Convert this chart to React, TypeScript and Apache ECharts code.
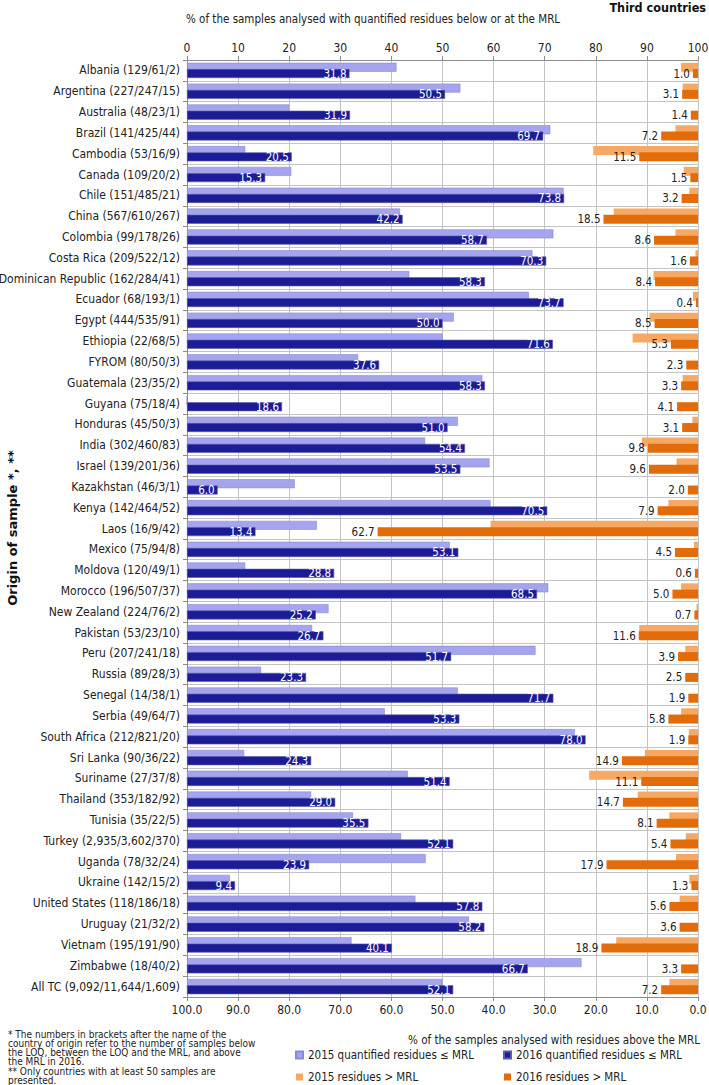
import React, { useEffect, useRef } from "react";
import * as echarts from "echarts";

const categories = [
  "Albania (129/61/2)",
  "Argentina (227/247/15)",
  "Australia (48/23/1)",
  "Brazil (141/425/44)",
  "Cambodia (53/16/9)",
  "Canada (109/20/2)",
  "Chile (151/485/21)",
  "China (567/610/267)",
  "Colombia (99/178/26)",
  "Costa Rica (209/522/12)",
  "Dominican Republic (162/284/41)",
  "Ecuador (68/193/1)",
  "Egypt (444/535/91)",
  "Ethiopia (22/68/5)",
  "FYROM (80/50/3)",
  "Guatemala (23/35/2)",
  "Guyana (75/18/4)",
  "Honduras (45/50/3)",
  "India (302/460/83)",
  "Israel (139/201/36)",
  "Kazakhstan (46/3/1)",
  "Kenya (142/464/52)",
  "Laos (16/9/42)",
  "Mexico (75/94/8)",
  "Moldova (120/49/1)",
  "Morocco (196/507/37)",
  "New Zealand (224/76/2)",
  "Pakistan (53/23/10)",
  "Peru (207/241/18)",
  "Russia (89/28/3)",
  "Senegal (14/38/1)",
  "Serbia (49/64/7)",
  "South Africa (212/821/20)",
  "Sri Lanka (90/36/22)",
  "Suriname (27/37/8)",
  "Thailand (353/182/92)",
  "Tunisia (35/22/5)",
  "Turkey (2,935/3,602/370)",
  "Uganda (78/32/24)",
  "Ukraine (142/15/2)",
  "United States (118/186/18)",
  "Uruguay (21/32/2)",
  "Vietnam (195/191/90)",
  "Zimbabwe (18/40/2)",
  "All TC (9,092/11,644/1,609)",
];

// % quantified residues <= MRL
const quantified2015 = [
  41.0, 53.5, 20.0, 71.1, 11.4, 20.4, 73.7, 41.7, 71.7, 67.6, 43.5, 66.9, 52.2, 50.0, 33.5,
  57.8, 0, 53.0, 46.6, 59.2, 21.1, 59.4, 25.4, 51.4, 11.4, 70.7, 27.7, 24.5, 68.2, 14.5,
  53.0, 38.7, 75.9, 11.2, 43.2, 24.3, 32.5, 41.9, 46.7, 8.4, 44.7, 55.2, 32.2, 77.2, 50.0,
];
const quantified2016 = [
  31.8, 50.5, 31.9, 69.7, 20.5, 15.3, 73.8, 42.2, 58.7, 70.3, 58.3, 73.7, 50.0, 71.6, 37.6,
  58.3, 18.6, 51.0, 54.4, 53.5, 6.0, 70.5, 13.4, 53.1, 28.8, 68.5, 25.2, 26.7, 51.7, 23.3,
  71.7, 53.3, 78.0, 24.3, 51.4, 29.0, 35.5, 52.1, 23.9, 9.4, 57.8, 58.2, 40.1, 66.7, 52.1,
];
// % residues > MRL
const aboveMrl2015 = [
  3.3, 3.0, 0, 4.4, 20.5, 2.8, 1.7, 16.5, 4.4, 0.5, 8.7, 1.0, 9.5, 12.8, 0,
  3.0, 0, 1.1, 11.0, 4.2, 0, 5.8, 40.6, 0.8, 0, 3.3, 0.3, 11.5, 2.5, 0,
  0, 3.3, 1.8, 10.4, 21.3, 11.8, 5.6, 2.4, 4.3, 1.7, 3.6, 0, 16.0, 0, 5.6,
];
const aboveMrl2016 = [
  1.0, 3.1, 1.4, 7.2, 11.5, 1.5, 3.2, 18.5, 8.6, 1.6, 8.4, 0.4, 8.5, 5.3, 2.3,
  3.3, 4.1, 3.1, 9.8, 9.6, 2.0, 7.9, 62.7, 4.5, 0.6, 5.0, 0.7, 11.6, 3.9, 2.5,
  1.9, 5.8, 1.9, 14.9, 11.1, 14.7, 8.1, 5.4, 17.9, 1.3, 5.6, 3.6, 18.9, 3.3, 7.2,
];

const seriesNames = [
  "2015 quantified residues ≤ MRL",
  "2016 quantified residues ≤ MRL",
  "2015 residues > MRL",
  "2016 residues > MRL",
];

const footnoteLines = [
  "* The numbers in brackets after the name of the",
  "country of origin refer to the number of samples below",
  "the LOQ, between the LOQ and the MRL, and above",
  "the MRL in 2016.",
  "** Only countries with at least 50 samples are",
  "presented.",
];

const FONT = "'DejaVu Sans Condensed', 'Liberation Sans Narrow', 'DejaVu Sans', sans-serif";
const TEXT = "#222";
const GRID = "#c4c4c4";
const AXIS = "#8c8c8c";

export default function App() {
  const ref = useRef<HTMLDivElement>(null);

  useEffect(() => {
    if (!ref.current) return;
    const chart = echarts.init(ref.current, null, { renderer: "svg" });
    const barW = 9;
    const gap = "-30%";
    const legendCommon = {
      orient: "vertical",
      top: 1049,
      padding: 0,
      itemWidth: 7,
      itemHeight: 7,
      itemGap: 10,
      icon: "rect",
      textStyle: { fontSize: 11.5, color: TEXT, fontFamily: FONT },
    };
    const option: any = {
      animation: false,
      backgroundColor: "#ffffff",
      textStyle: { fontFamily: FONT },
      grid: {
        left: 187,
        right: 11,
        top: 60,
        bottom: 88,
        containLabel: false,
        outerBoundsMode: "none",
      },
      legend: [
        { ...legendCommon, data: [seriesNames[0], seriesNames[2]], left: 295 },
        { ...legendCommon, data: [seriesNames[1], seriesNames[3]], left: 503 },
      ],
      xAxis: [
        {
          type: "value",
          position: "top",
          min: 0,
          max: 100,
          interval: 10,
          axisLine: { show: true, lineStyle: { color: AXIS } },
          axisTick: { show: true, length: 4, lineStyle: { color: AXIS } },
          axisLabel: { fontSize: 12, color: TEXT, margin: 6, fontFamily: FONT },
          splitLine: { show: true, lineStyle: { color: GRID, width: 1 } },
        },
        {
          type: "value",
          position: "bottom",
          min: 0,
          max: 100,
          interval: 10,
          inverse: true,
          axisLine: { show: true, lineStyle: { color: AXIS } },
          axisTick: { show: true, length: 4, lineStyle: { color: AXIS } },
          axisLabel: {
            fontSize: 12,
            color: TEXT,
            margin: 7,
            fontFamily: FONT,
            formatter: (v: number) => v.toFixed(1),
          },
          splitLine: { show: false },
        },
      ],
      yAxis: [
        {
          type: "category",
          data: categories,
          inverse: true,
          axisLine: { show: true, lineStyle: { color: AXIS } },
          axisTick: { show: true, length: 4, interval: 0, lineStyle: { color: AXIS } },
          axisLabel: { interval: 0, fontSize: 12, color: TEXT, margin: 7, fontFamily: FONT },
          splitLine: { show: true, interval: 0, lineStyle: { color: GRID, width: 1 } },
        },
        {
          type: "category",
          data: categories,
          inverse: true,
          show: false,
        },
      ],
      series: [
        {
          name: seriesNames[0],
          type: "bar",
          xAxisIndex: 0,
          yAxisIndex: 0,
          data: quantified2015,
          barWidth: barW,
          barGap: gap,
          itemStyle: { color: "#a5a5ef", borderColor: "#8a8ad2", borderWidth: 0.6 },
        },
        {
          name: seriesNames[1],
          type: "bar",
          xAxisIndex: 0,
          yAxisIndex: 0,
          data: quantified2016,
          barWidth: barW,
          barGap: gap,
          itemStyle: { color: "#1c1c97", borderColor: "#5a5aa8", borderWidth: 0.6 },
          label: {
            show: true,
            position: "insideRight",
            distance: 3,
            color: "#ffffff",
            fontSize: 11.5,
            fontFamily: FONT,
            formatter: (p: any) => Number(p.value).toFixed(1),
          },
        },
        {
          name: seriesNames[2],
          type: "bar",
          xAxisIndex: 1,
          yAxisIndex: 1,
          data: aboveMrl2015,
          barWidth: barW,
          barGap: gap,
          itemStyle: { color: "#f7a964" },
        },
        {
          name: seriesNames[3],
          type: "bar",
          xAxisIndex: 1,
          yAxisIndex: 1,
          data: aboveMrl2016,
          barWidth: barW,
          barGap: gap,
          itemStyle: { color: "#e36c0a" },
          label: {
            show: true,
            position: "left",
            distance: 3,
            color: TEXT,
            fontSize: 11.5,
            fontFamily: FONT,
            formatter: (p: any) => Number(p.value).toFixed(1),
          },
        },
      ],
      graphic: [
        {
          type: "text",
          right: 3,
          top: 1,
          style: { text: "Third countries", fill: "#111", font: "bold 12.5px " + FONT },
        },
        {
          type: "text",
          left: 186,
          top: 13,
          style: {
            text: "% of the samples analysed with quantified residues below or at the MRL",
            font: "11.5px " + FONT,
            fill: TEXT,
          },
        },
        {
          type: "text",
          x: 12,
          y: 528,
          rotation: Math.PI / 2,
          style: {
            text: "Origin of sample *, **",
            font: "bold 13px 'DejaVu Sans', sans-serif",
            fill: "#111",
            align: "center",
            verticalAlign: "middle",
          },
        },
        {
          type: "text",
          right: 9,
          top: 1034,
          style: {
            text: "% of the samples analysed with residues above the MRL",
            font: "11.5px " + FONT,
            fill: TEXT,
          },
        },
        {
          type: "text",
          left: 8,
          top: 1029,
          style: {
            text: footnoteLines.join("\n"),
            font: "10px " + FONT,
            lineHeight: 9.3,
            fill: TEXT,
          },
        },
      ],
    };
    chart.setOption(option);
    return () => chart.dispose();
  }, []);

  return (
    <div
      ref={ref}
      style={{ position: "fixed", left: 0, top: 0, width: 709, height: 1085, background: "#fff" }}
    />
  );
}
